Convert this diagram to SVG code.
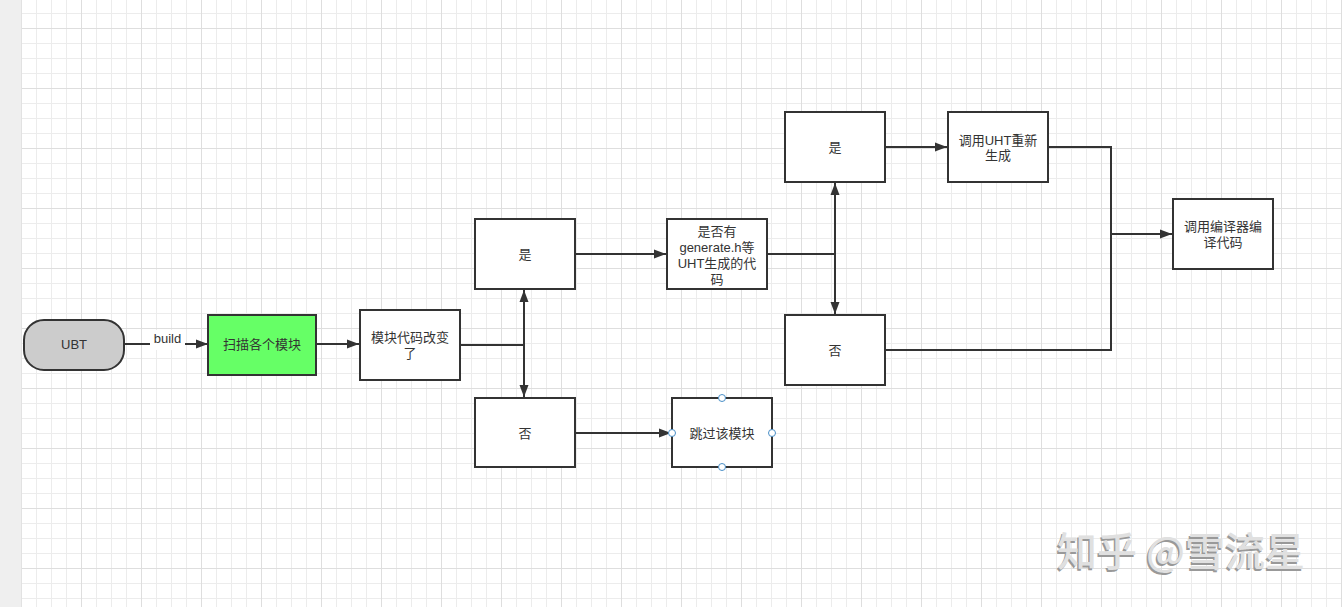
<svg xmlns="http://www.w3.org/2000/svg" width="1342" height="607" viewBox="0 0 1342 607">
<defs>
<pattern id="minor" patternUnits="userSpaceOnUse" x="6" y="13" width="15" height="15">
<path d="M0.5 0V15M0 0.5H15" stroke="#ececec" stroke-width="1" fill="none"/>
</pattern>
<pattern id="major" patternUnits="userSpaceOnUse" x="21" y="28" width="60" height="60">
<path d="M0.5 0V60M0 0.5H60" stroke="#dedede" stroke-width="1" fill="none"/>
</pattern>
<marker id="arr" viewBox="0 0 12 10" refX="12" refY="5" markerWidth="12" markerHeight="10" markerUnits="userSpaceOnUse" orient="auto">
<path d="M0 0.5L12 5L0 9.5Z" fill="#333"/>
</marker>
</defs>
<style>
.box{fill:#fff;stroke:#333;stroke-width:2}
.t{font-family:"Liberation Sans","Noto Sans CJK SC",sans-serif;font-size:13px;fill:#333;text-anchor:middle;dominant-baseline:central}
.c{fill:none;stroke:#333;stroke-width:2}
.h{fill:#fff;stroke:#4a8fc7;stroke-width:1}
.wm{font-family:"Noto Sans CJK SC",sans-serif;font-size:40px;font-weight:500}
</style>
<rect width="1342" height="607" fill="#fff"/>
<rect x="21" width="1321" height="607" fill="url(#minor)"/>
<rect x="21" width="1321" height="607" fill="url(#major)"/>
<rect x="0" y="0" width="21" height="607" fill="#efefef"/>
<line x1="21.5" y1="0" x2="21.5" y2="607" stroke="#e2e2e2"/>

<g id="connectors">
<line class="c" x1="124" y1="344" x2="208" y2="344" marker-end="url(#arr)"/>
<rect x="150" y="330" width="35" height="20" fill="#fff"/>
<text class="t" x="167.5" y="338">build</text>
<line class="c" x1="316" y1="344" x2="359" y2="344" marker-end="url(#arr)"/>
<polyline class="c" points="460,345 524,345 524,290" marker-end="url(#arr)"/>
<polyline class="c" points="524,345 524,397" marker-end="url(#arr)"/>
<line class="c" x1="575" y1="254" x2="666" y2="254" marker-end="url(#arr)"/>
<line class="c" x1="575" y1="433" x2="671" y2="433" marker-end="url(#arr)"/>
<polyline class="c" points="767,254 835,254 835,183" marker-end="url(#arr)"/>
<polyline class="c" points="835,254 835,314" marker-end="url(#arr)"/>
<line class="c" x1="885" y1="147" x2="947" y2="147" marker-end="url(#arr)"/>
<polyline class="c" points="1048,147 1111,147 1111,234"/>
<polyline class="c" points="885,350 1111,350 1111,234"/>
<line class="c" x1="1111" y1="234" x2="1172" y2="234" marker-end="url(#arr)"/>
</g>

<g id="n-ubt">
<rect x="24" y="320" width="100" height="50" rx="20" ry="20" fill="#cccccc" stroke="#333" stroke-width="2"/>
<text class="t" x="74" y="344">UBT</text>
</g>
<g id="n-scan">
<rect x="208" y="315" width="108" height="60" fill="#66ff66" stroke="#333" stroke-width="2"/>
<text class="t" x="262" y="344">扫描各个模块</text>
</g>
<g id="n-changed">
<rect class="box" x="360" y="310" width="100" height="70"/>
<text class="t" x="410" y="337">模块代码改变</text>
<text class="t" x="410" y="353">了</text>
</g>
<g id="n-yes1">
<rect class="box" x="475" y="219" width="100" height="70"/>
<text class="t" x="525" y="254">是</text>
</g>
<g id="n-no1">
<rect class="box" x="475" y="398" width="100" height="69"/>
<text class="t" x="525" y="433">否</text>
</g>
<g id="n-hasgen">
<rect class="box" x="667" y="219" width="100" height="70"/>
<text class="t" x="717" y="231">是否有</text>
<text class="t" x="717" y="247">generate.h等</text>
<text class="t" x="717" y="263">UHT生成的代</text>
<text class="t" x="717" y="279">码</text>
</g>
<g id="n-skip">
<rect class="box" x="672" y="398" width="100" height="69"/>
<text class="t" x="722" y="433">跳过该模块</text>
<circle class="h" cx="722" cy="398" r="3.5"/>
<circle class="h" cx="672" cy="433" r="3.5"/>
<circle class="h" cx="772" cy="433" r="3.5"/>
<circle class="h" cx="722" cy="467" r="3.5"/>
</g>
<g id="n-yes2">
<rect class="box" x="785" y="112" width="100" height="70"/>
<text class="t" x="835" y="147">是</text>
</g>
<g id="n-uht">
<rect class="box" x="948" y="112" width="100" height="70"/>
<text class="t" x="998" y="140">调用UHT重新</text>
<text class="t" x="998" y="155">生成</text>
</g>
<g id="n-no2">
<rect class="box" x="785" y="315" width="100" height="70"/>
<text class="t" x="835" y="350">否</text>
</g>
<g id="n-compile">
<rect class="box" x="1173" y="199" width="100" height="70"/>
<text class="t" x="1223" y="226">调用编译器编</text>
<text class="t" x="1223" y="242">译代码</text>
</g>

<g id="watermark">
<text class="wm" x="1057" y="566" fill="#999" transform="translate(-1.5,1.5)">知乎 @雪流星</text>
<text class="wm" x="1057" y="566" fill="#e0e0e0">知乎 @雪流星</text>
</g>
</svg>
